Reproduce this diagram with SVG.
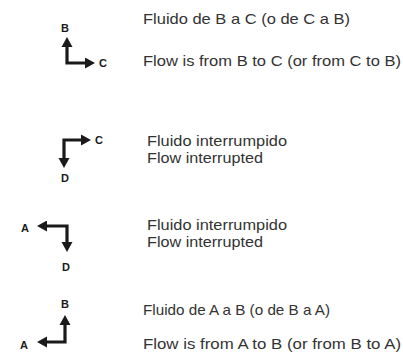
<svg xmlns="http://www.w3.org/2000/svg" width="403" height="356" viewBox="0 0 403 356">
<style>
.t{font-family:"Liberation Sans",Arial,sans-serif;font-size:15px;fill:#333;}
.l{font-family:"Liberation Sans",Arial,sans-serif;font-size:11px;font-weight:bold;fill:#1a1a1a;text-anchor:middle;}
.a{fill:none;stroke:#1a1a1a;stroke-width:3.2;stroke-linejoin:miter;}
</style>
<defs>
<marker id="ah" markerUnits="userSpaceOnUse" markerWidth="12" markerHeight="12" refX="1" refY="5.5" orient="auto">
<path d="M0,0 L10,5.5 L0,11 z" fill="#1a1a1a" stroke="none"/>
</marker>
<marker id="as" markerUnits="userSpaceOnUse" markerWidth="12" markerHeight="12" refX="9" refY="5.5" orient="auto">
<path d="M10,0 L0,5.5 L10,11 z" fill="#1a1a1a" stroke="none"/>
</marker>
</defs>
<rect width="403" height="356" fill="#fff"/>
<g id="connectors">
<path class="a" d="M67,46 L67,63 L86,63" marker-start="url(#as)" marker-end="url(#ah)"/>
<path class="a" d="M82,140 L64,140 L64,159" marker-start="url(#as)" marker-end="url(#ah)"/>
<path class="a" d="M46,226 L67,226 L67,243" marker-start="url(#as)" marker-end="url(#ah)"/>
<path class="a" d="M65,324 L65,342 L46,342" marker-start="url(#as)" marker-end="url(#ah)"/>
</g>
<g id="item1">
<text class="l" x="65" y="32">B</text>
<text class="l" x="103" y="67">C</text>
<text class="t" x="143" y="24" textLength="207" lengthAdjust="spacingAndGlyphs">Fluido de B a C (o de C a B)</text>
<text class="t" x="143" y="66" textLength="258" lengthAdjust="spacingAndGlyphs">Flow is from B to C (or from C to B)</text>
</g>
<g id="item2">
<text class="l" x="99" y="144">C</text>
<text class="l" x="65" y="182">D</text>
<text class="t" x="147" y="146" textLength="140" lengthAdjust="spacingAndGlyphs">Fluido interrumpido</text>
<text class="t" x="147" y="163" textLength="116" lengthAdjust="spacingAndGlyphs">Flow interrupted</text>
</g>
<g id="item3">
<text class="l" x="25" y="232">A</text>
<text class="l" x="66" y="271">D</text>
<text class="t" x="147" y="230" textLength="140" lengthAdjust="spacingAndGlyphs">Fluido interrumpido</text>
<text class="t" x="147" y="247" textLength="116" lengthAdjust="spacingAndGlyphs">Flow interrupted</text>
</g>
<g id="item4">
<text class="l" x="65" y="308">B</text>
<text class="l" x="24" y="349">A</text>
<text class="t" x="143" y="315" textLength="187" lengthAdjust="spacingAndGlyphs">Fluido de A a B (o de B a A)</text>
<text class="t" x="143" y="349" textLength="258" lengthAdjust="spacingAndGlyphs">Flow is from A to B (or from B to A)</text>
</g>
</svg>
